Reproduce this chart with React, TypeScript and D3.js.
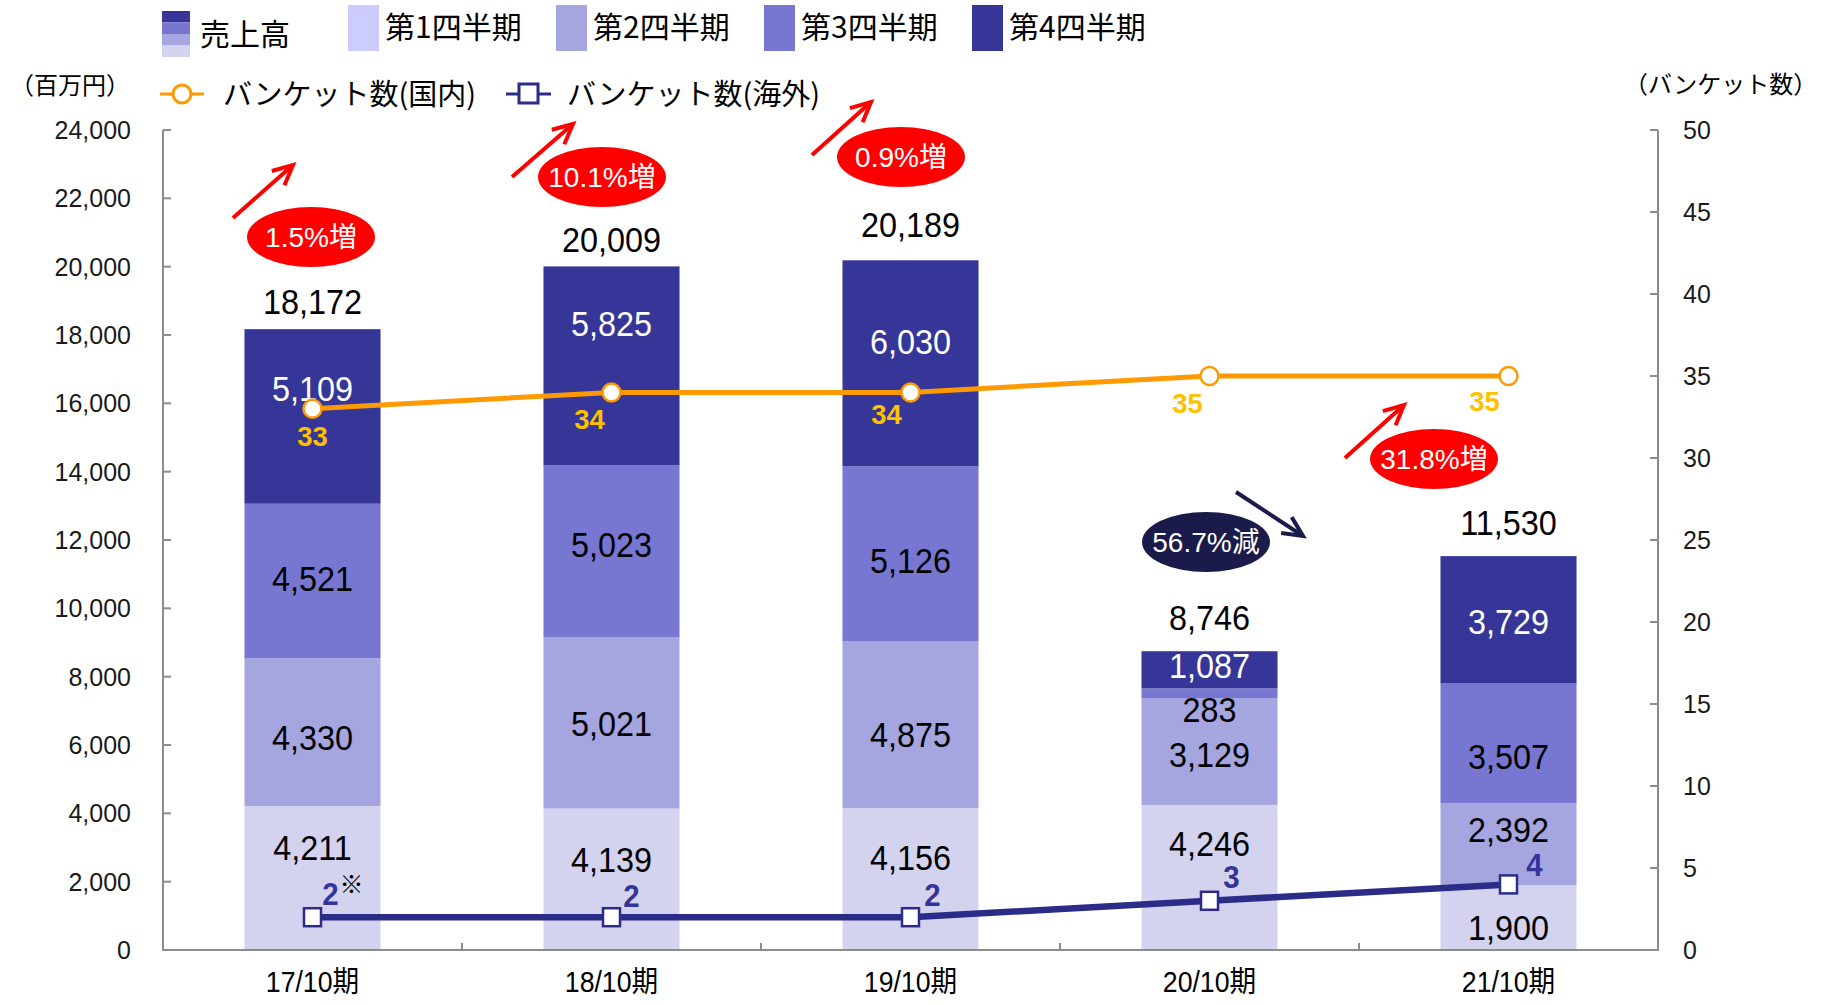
import React, { useEffect } from 'react';
import * as d3 from 'd3';

const categories = ['17/10期', '18/10期', '19/10期', '20/10期', '21/10期'];
const q1 = [4211, 4139, 4156, 4246, 1900];
const q2 = [4330, 5021, 4875, 3129, 2392];
const q3 = [4521, 5023, 5126, 283, 3507];
const q4 = [5109, 5825, 6030, 1087, 3729];
const totals = [18172, 20009, 20189, 8746, 11530];
const domestic = [33, 34, 34, 35, 35];
const overseas = [2, 2, 2, 3, 4];
const leftTicks = [0, 2000, 4000, 6000, 8000, 10000, 12000, 14000, 16000, 18000, 20000, 22000, 24000];
const rightTicks = [0, 5, 10, 15, 20, 25, 30, 35, 40, 45, 50];
const quarterNames = ['第1四半期', '第2四半期', '第3四半期', '第4四半期'];
const changeLabels = ['1.5%増', '10.1%増', '0.9%増', '56.7%減', '31.8%増'];

// styles / layout
const barColors = ['#D3D3F0', '#A5A5E0', '#7777D2', '#363699'];
const legendColors = ['#CCCCFF', '#A5A5E0', '#7777D2', '#363699'];
const labelColors = ['#000', '#000', '#000', '#fff'];
const ORANGE = '#FF9900';
const NAVY = '#2B2B88';
const GOLD = '#FFC000';
const SANS = '"Liberation Sans", Arial, "Noto Sans CJK JP", sans-serif';
const CJK = '"Noto Sans CJK JP", "Liberation Sans", sans-serif';

const segNudge = [
  [-31, -20, -22, -34, 9],
  [5, 0, 9, 3, -15],
  [-3, -7, 6, 16, 13],
  [-28, -43, -22, -5, 1],
];
const totalGap = [28, 27, 36, 34, 34];
const domDx = [0, -22, -24, -22, -24];
const domDy = [27, 27, 22, 27, 25];
const ovDx = [18, 20, 22, 22, 26];
const ovDy = [-23, -21, -22, -24, -20];

const annotations = [
  { cx: 311, cy: 237, fill: '#FF0000', ax1: 233, ay1: 218, ax2: 293, ay2: 165, color: '#FF0000' },
  { cx: 602, cy: 177, fill: '#FF0000', ax1: 512, ay1: 177, ax2: 573, ay2: 124, color: '#FF0000' },
  { cx: 901, cy: 157, fill: '#FF0000', ax1: 812, ay1: 155, ax2: 871, ay2: 102, color: '#FF0000' },
  { cx: 1206, cy: 542, fill: '#1B1B4B', ax1: 1236, ay1: 492, ax2: 1303, ay2: 536, color: '#1B1B4B' },
  { cx: 1434, cy: 459, fill: '#FF0000', ax1: 1345, ay1: 458, ax2: 1404, ay2: 405, color: '#FF0000' },
];

const W = 1826;
const H = 1005;
const X0 = 163;
const X1 = 1658;
const Y0 = 950;
const Y1 = 130;

function Arrow({ x1, y1, x2, y2, color }: any) {
  const ang = Math.atan2(y2 - y1, x2 - x1);
  const len = 22;
  const spread = Math.PI / 7;
  const p1 = [x2 - len * Math.cos(ang - spread), y2 - len * Math.sin(ang - spread)];
  const p2 = [x2 - len * Math.cos(ang + spread), y2 - len * Math.sin(ang + spread)];
  return (
    <g stroke={color} strokeWidth={4} fill="none" strokeLinecap="butt">
      <line x1={x1} y1={y1} x2={x2} y2={y2} />
      <polyline points={`${p1[0]},${p1[1]} ${x2},${y2} ${p2[0]},${p2[1]}`} />
    </g>
  );
}

// centered text, horizontally condensed
function NText({ x, y, sx, size, fill, bold, children, family }: any) {
  return (
    <text
      transform={`translate(${x},${y}) scale(${sx},1)`}
      textAnchor="middle"
      dy="0.36em"
      fontSize={size}
      fill={fill}
      fontWeight={bold ? 'bold' : 'normal'}
      fontFamily={family || SANS}
    >
      {children}
    </text>
  );
}

export default function App() {
  useEffect(() => {
    document.body.style.margin = '0';
  }, []);

  const x = d3.scaleBand<string>().domain(categories).range([X0, X1]).paddingInner(0.545).paddingOuter(0.2725);
  const y = d3.scaleLinear().domain([0, 24000]).range([Y0, Y1]);
  const y2 = d3.scaleLinear().domain([0, 50]).range([Y0, Y1]);
  const series = [q1, q2, q3, q4];
  const rows = categories.map((c, i) => ({ c, q1: q1[i], q2: q2[i], q3: q3[i], q4: q4[i] }));
  const stacked = d3.stack<any>().keys(['q1', 'q2', 'q3', 'q4'])(rows);
  const cx = (i: number) => (x(categories[i]) as number) + x.bandwidth() / 2;
  const domLine = d3.line<number>().x((_, i) => cx(i)).y((d) => y2(d))(domestic) as string;
  const ovLine = d3.line<number>().x((_, i) => cx(i)).y((d) => y2(d))(overseas) as string;
  const boundaries = categories.slice(1).map((c) => (x(c) as number) - (x.step() - x.bandwidth()) / 2);
  const fmt = d3.format(',');

  const legendX = [348, 556, 764, 972];

  return (
    <svg width={W} height={H} style={{ display: 'block', background: '#fff' }}>
      {/* bars */}
      {stacked.map((s, si) => (
        <g key={si} fill={barColors[si]}>
          {s.map((d, i) => (
            <rect key={i} x={x(categories[i])} y={y(d[1])} width={x.bandwidth()} height={y(d[0]) - y(d[1])} />
          ))}
        </g>
      ))}
      {/* axes */}
      <g stroke="#8C8C8C" strokeWidth={2} fill="none">
        <line x1={X0} y1={Y1} x2={X0} y2={Y0 + 1} />
        <line x1={X1} y1={Y1} x2={X1} y2={Y0 + 1} />
        <line x1={X0} y1={Y0} x2={X1} y2={Y0} />
        {leftTicks.map((t) => (
          <line key={'l' + t} x1={X0} x2={X0 + 8} y1={y(t)} y2={y(t)} />
        ))}
        {rightTicks.map((t) => (
          <line key={'r' + t} x1={X1 - 8} x2={X1} y1={y2(t)} y2={y2(t)} />
        ))}
        {boundaries.map((b, i) => (
          <line key={'b' + i} x1={b} x2={b} y1={Y0} y2={Y0 - 7} />
        ))}
      </g>
      <g fontFamily={SANS} fontSize={25} fill="#1a1a1a">
        {leftTicks.map((t) => (
          <text key={'lt' + t} x={131} y={y(t)} dy="0.36em" textAnchor="end">
            {fmt(t)}
          </text>
        ))}
        {rightTicks.map((t) => (
          <text key={'rt' + t} x={1683} y={y2(t)} dy="0.36em">
            {t}
          </text>
        ))}
      </g>
      {categories.map((c, i) => (
        <NText key={c} x={cx(i)} y={982} sx={0.92} size={29} fill="#000">
          {c}
        </NText>
      ))}
      {/* segment labels */}
      {stacked.map((s, si) =>
        s.map((d, i) => (
          <NText
            key={si + '-' + i}
            x={cx(i)}
            y={(y(d[0]) + y(d[1])) / 2 + segNudge[si][i]}
            sx={0.9}
            size={36}
            fill={labelColors[si]}
          >
            {fmt(series[si][i])}
          </NText>
        ))
      )}
      {totals.map((t, i) => (
        <NText key={'t' + i} x={cx(i)} y={y(stacked[3][i][1]) - totalGap[i]} sx={0.9} size={36} fill="#000">
          {fmt(t)}
        </NText>
      ))}
      {/* lines */}
      <path d={domLine} fill="none" stroke={ORANGE} strokeWidth={5} />
      {domestic.map((d, i) => (
        <circle key={'dc' + i} cx={cx(i)} cy={y2(d)} r={9} fill="#fff" stroke={ORANGE} strokeWidth={2.5} />
      ))}
      <path d={ovLine} fill="none" stroke={NAVY} strokeWidth={6.5} />
      {overseas.map((d, i) => (
        <rect key={'oc' + i} x={cx(i) - 8.5} y={y2(d) - 9} width={17} height={18} fill="#fff" stroke={NAVY} strokeWidth={2.5} />
      ))}
      {domestic.map((d, i) => (
        <NText key={'dl' + i} x={cx(i) + domDx[i]} y={y2(d) + domDy[i]} sx={0.98} size={28} fill={GOLD} bold>
          {d}
        </NText>
      ))}
      {overseas.map((d, i) => (
        <NText key={'ol' + i} x={cx(i) + ovDx[i]} y={y2(d) + ovDy[i]} sx={0.95} size={31} fill="#333399" bold>
          {d}
        </NText>
      ))}
      <text x={cx(0) + 27} y={884} dy="0.36em" fontSize={24} fill="#000" fontFamily={CJK}>
        ※
      </text>
      {/* annotations */}
      {annotations.map((a, i) => (
        <g key={'a' + i}>
          <Arrow x1={a.ax1} y1={a.ay1} x2={a.ax2} y2={a.ay2} color={a.color} />
          <ellipse cx={a.cx} cy={a.cy} rx={64} ry={30} fill={a.fill} />
          <text x={a.cx} y={a.cy} dy="0.36em" textAnchor="middle" fill="#fff" fontFamily={SANS} fontSize={28}>
            {changeLabels[i]}
          </text>
        </g>
      ))}
      {/* legend */}
      <g>
        {[3, 2, 1, 0].map((q, k) => (
          <rect key={'ic' + q} x={162} y={11 + k * 11.5} width={28} height={11.5} fill={barColors[q]} />
        ))}
        <text x={200} y={34} dy="0.36em" fontFamily={CJK} fontSize={30} fill="#000">
          売上高
        </text>
        {quarterNames.map((n, i) => (
          <g key={n}>
            <rect x={legendX[i]} y={5} width={31} height={46} fill={legendColors[i]} />
            <text x={legendX[i] + 37} y={27} dy="0.36em" fontFamily={CJK} fontSize={30} fill="#000">
              {n}
            </text>
          </g>
        ))}
        <line x1={160} x2={204} y1={94} y2={94} stroke={ORANGE} strokeWidth={3} />
        <circle cx={182} cy={94} r={9} fill="#fff" stroke={ORANGE} strokeWidth={3} />
        <text x={223} y={95} dy="0.36em" fontFamily={CJK} fontSize={29} fill="#000">
          バンケット数(国内)
        </text>
        <line x1={506} x2={551} y1={94} y2={94} stroke={NAVY} strokeWidth={3} />
        <rect x={519} y={84} width={19} height={19} fill="#fff" stroke={NAVY} strokeWidth={3} />
        <text x={567} y={95} dy="0.36em" fontFamily={CJK} fontSize={29} fill="#000">
          バンケット数(海外)
        </text>
        <text x={10} y={85} dy="0.36em" fontFamily={CJK} fontSize={24} fill="#000">
          （百万円）
        </text>
        <text x={1624} y={84} dy="0.36em" fontFamily={CJK} fontSize={24} fill="#000">
          （バンケット数）
        </text>
      </g>
    </svg>
  );
}
